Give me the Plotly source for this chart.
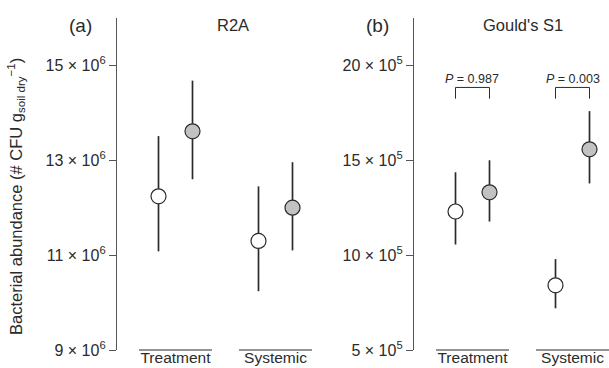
import plotly.graph_objects as go

# ---- data ----
categories = ["Treatment", "Systemic"]

# Panel (a) R2A  (CFU per g soil dry)
r2a_open_mean = [12.24e6, 11.30e6]
r2a_open_low = [11.08e6, 10.24e6]
r2a_open_high = [13.51e6, 12.45e6]
r2a_fill_mean = [13.61e6, 12.00e6]
r2a_fill_low = [12.60e6, 11.10e6]
r2a_fill_high = [14.68e6, 12.96e6]

# Panel (b) Gould's S1
g_open_mean = [12.30e5, 8.41e5]
g_open_low = [10.56e5, 7.20e5]
g_open_high = [14.37e5, 9.79e5]
g_fill_mean = [13.31e5, 15.58e5]
g_fill_low = [11.77e5, 13.78e5]
g_fill_high = [15.00e5, 17.59e5]

p_values = ["0.987", "0.003"]

r2a_ticks = [9e6, 11e6, 13e6, 15e6]
r2a_ticktext = ["9 × 10<sup>6</sup>", "11 × 10<sup>6</sup>", "13 × 10<sup>6</sup>", "15 × 10<sup>6</sup>"]
g_ticks = [5e5, 10e5, 15e5, 20e5]
g_ticktext = ["5 × 10<sup>5</sup>", "10 × 10<sup>5</sup>", "15 × 10<sup>5</sup>", "20 × 10<sup>5</sup>"]

# ---- style ----
FONT = "Liberation Sans, Arial, sans-serif"
DARK = "#2b2b2b"
AXIS = "#555555"
GREY_FILL = "#c2c2c2"
OFF = 0.17
HALF = 0.365
W, H = 609, 368

pos = [1, 2]

fig = go.Figure()


def add_series(xaxis, yaxis, means, lows, highs, offset, fill):
    xs = [p + offset for p in pos]
    fig.add_trace(go.Scatter(
        x=xs, y=means, mode="markers", xaxis=xaxis, yaxis=yaxis,
        marker=dict(size=15, color=fill, line=dict(color=DARK, width=1.2)),
        error_y=dict(type="data", symmetric=False,
                     array=[h - m for h, m in zip(highs, means)],
                     arrayminus=[m - l for m, l in zip(means, lows)],
                     color=DARK, thickness=1.7, width=0),
        showlegend=False, hoverinfo="skip"))


add_series("x", "y", r2a_open_mean, r2a_open_low, r2a_open_high, -OFF, "white")
add_series("x", "y", r2a_fill_mean, r2a_fill_low, r2a_fill_high, OFF, GREY_FILL)
add_series("x2", "y2", g_open_mean, g_open_low, g_open_high, -OFF, "white")
add_series("x2", "y2", g_fill_mean, g_fill_low, g_fill_high, OFF, GREY_FILL)

# P-value brackets on panel (b)
br_top = 18.84e5
br_bot = 18.25e5
for p, pv in zip(pos, p_values):
    fig.add_trace(go.Scatter(
        x=[p - OFF, p - OFF, p + OFF, p + OFF], y=[br_bot, br_top, br_top, br_bot],
        mode="lines", xaxis="x2", yaxis="y2", line=dict(color=DARK, width=1),
        showlegend=False, hoverinfo="skip"))
    fig.add_annotation(x=p, y=19.31e5, xref="x2", yref="y2",
                       text="<i>P</i> = " + pv, showarrow=False,
                       font=dict(family=FONT, size=12.5, color=DARK),
                       xanchor="center", yanchor="middle")

# category underlines
shapes = []
for xr, yr in [("x", "y domain"), ("x2", "y2 domain")]:
    for p in pos:
        shapes.append(dict(type="line", xref=xr, yref=yr, x0=p - HALF, x1=p + HALF,
                           y0=0, y1=0, line=dict(color=DARK, width=1.2)))

ydom = [(H - 350) / H, (H - 18) / H]
xdom_a = [117 / W, 317 / W]
xdom_b = [414 / W, 1.0]

xcommon = dict(showline=False, showgrid=False, zeroline=False, ticks="",
               automargin=False, tickvals=pos, ticktext=categories,
               ticklabelstandoff=-4,
               tickfont=dict(family=FONT, size=15.5, color=DARK))
ycommon = dict(showline=True, linecolor=AXIS, linewidth=1.3, showgrid=False,
               zeroline=False, ticks="outside", ticklen=7, tickwidth=1.3,
               automargin=False,
               tickcolor=AXIS, tickfont=dict(family=FONT, size=16, color=DARK))

fig.update_layout(
    width=W, height=H,
    margin=dict(l=0, r=0, t=0, b=0),
    paper_bgcolor="white", plot_bgcolor="white",
    xaxis=dict(domain=xdom_a, range=[0.415, 2.415], anchor="y", **xcommon),
    yaxis=dict(domain=ydom, range=[9e6, 16e6], anchor="x",
               tickvals=r2a_ticks, ticktext=r2a_ticktext, **ycommon),
    xaxis2=dict(domain=xdom_b, range=[0.415, 2.365], anchor="y2", **xcommon),
    yaxis2=dict(domain=ydom, range=[5e5, 22.5e5], anchor="x2",
                tickvals=g_ticks, ticktext=g_ticktext, **ycommon),
    shapes=shapes,
)

annots = [
    dict(x=80 / W, y=(H - 25) / H, text="(a)", size=19),
    dict(x=233 / W, y=(H - 25) / H, text="R2A", size=16.5),
    dict(x=377 / W, y=(H - 25) / H, text="(b)", size=19),
    dict(x=523 / W, y=(H - 25) / H, text="Gould's S1", size=16.5),
]
for a in annots:
    fig.add_annotation(x=a["x"], y=a["y"], xref="paper", yref="paper", text=a["text"],
                       showarrow=False, xanchor="center", yanchor="middle",
                       font=dict(family=FONT, size=a["size"], color=DARK))

fig.add_annotation(x=16 / W, y=(H - 197) / H, xref="paper", yref="paper",
                   text="Bacterial abundance (# CFU g<sub>soil dry</sub><sup>−1</sup>)",
                   textangle=-90, showarrow=False, xanchor="center", yanchor="middle",
                   font=dict(family=FONT, size=16.5, color=DARK))

fig.write_html("out.html", config={"displayModeBar": False},
               post_script="document.body.style.margin='0';")
